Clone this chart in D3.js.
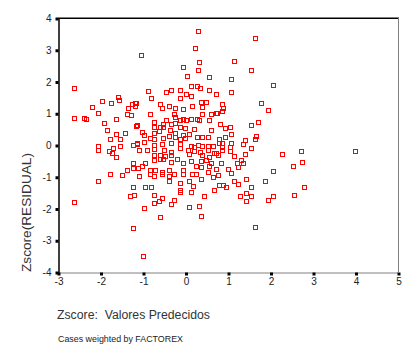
<!DOCTYPE html>
<html>
<head>
<meta charset="utf-8">
<script src="https://cdn.jsdelivr.net/npm/d3@7"></script>
<style>
  body { margin: 0; background: #fff; }
  text { font-family: "Liberation Sans", Arial, sans-serif; }
</style>
</head>
<body>
<div id="chart"></div>
<script>
// values
const predicted = [
  -2.62, -1.97, -1.76, -1.58, -1.57, -2.19, -2.05, -1.36, -1.27, -1.17,
  -1.38, -1.28, -2.62, -2.40, -2.33, -1.91, -1.64, -1.17, -1.85, -1.64,
  -1.43, -1.78, -1.53, -2.05, -2.05, -1.79, -1.70, -1.72, -1.64, -1.53,
  -1.24, -1.13, -1.23, -1.23, -1.38, -1.78, -1.50, -2.05, -1.23, -1.30,
  -1.22, -2.62, -1.24,
  0.29, 0.23, -1.05, 0.31, -0.05, 0.29, 0.03, 0.55, 0.12, 0.28,
  0.33, -0.88, -0.45, -0.34, -0.14, 0.55, -0.82, -0.13, 0, 0.12,
  -1.18, -1.18, -0.61, -0.56, -0.39, -0.25, -0.05, 0.15, 0.37, 0.49,
  0.39, 0.71, 0.61, -0.83, -0.26, -0.25, 0.38, -0.45, -0.05, 0.12,
  0.26, 0.32, 0.55, -0.74, -0.53, -0.35, -0.24, -0.13, 0, -1.14,
  -0.74, -0.60, -0.52, -0.12, -0.01, 0.20, 0.59, -1.02, -0.75, -0.62,
  -0.37, -0.25, -0.05, 0.08, 0.28, 0.39, 0.52, -0.97, -0.83, -0.73,
  -0.52, -0.39, -0.24, -0.13, -0.02, -1.13, -0.97, -0.74, -0.56, -0.35,
  -0.13, 0.12, 0.20, 0.29, 0.39, 0.53, 0.64, -1.10, -0.90, -0.75,
  -0.51, -0.33, -0.12, 0.06, 0.20, 0.35, 0.53, -0.74, -0.60, -0.49,
  -0.33, 0.08, 0.38, 0.56, 0.68, -0.74, -0.60, -0.52, -0.35, -0.20,
  -0.05, 0.13, 0.37, 0.49, -0.96, -1.02, -1.11, -0.83, -0.72, -0.55,
  -0.39, -0.05, 0.25, 0.37, 0.55, 0.61, -1.10, -0.84, -0.74, -0.55,
  -0.39, -0.28, -0.05, 0.16, 0.25, 0.37, 0.53, 0.64, -0.39, -0.14,
  0.09, 0.17, -0.96, -0.82, -0.14, -0.14, 0.13, 0.66, -0.73, 0.44,
  -0.55, -0.63, -0.26, -0.73, -0.33, 0.31, 0.09, -0.97, 0.36, -0.61,
  -1.00,
  1.64, 1.14, 1.54, 1.06, 2.05, 1.06, 0.72, 1.77, 1.94, 0.85,
  0.89, 0.85, 0.73, 0.80, 0.92, 1.04, 1.54, 1.71, 1.06, 0.94,
  0.78, 1.65, 1.63, 1.40, 0.78, 0.86, 1.08, 1.36, 0.86, 1.05,
  1.54, 0.86, 1.04, 0.72, 0.77, 1.13, 1.41, 2.28, 2.71, 2.73,
  0.84, 1.22, 1.23, 1.31, 1.36, 2.53, 2.05, 0.72, 1.00, 1.06,
  0.77, 1.42, 1.86, 1.13, 1.23, 0.78, 0.89, 0.96, 1.54, 0.68,
  2.78, 1.42, 1.29, 1.54, 2.05, 2.56, 1.42, 1.94, 1.64, 3.99
];
const residual = [
  1.80, 1.39, 1.31, 1.50, 1.42, 1.19, 1.02, 1.16, 1.28, 1.31,
  0.97, 0.94, 0.86, 0.86, 0.81, 0.68, 0.81, 0.60, 0.47, 0.34,
  0.37, 0.18, 0.20, -0.03, -0.16, -0.18, -0.10, -0.26, -0.38, -0.03,
  -0.01, 0.05, -0.58, -0.71, -0.80, -0.91, -0.95, -1.14, -1.33, -1.60,
  -1.57, -1.80, -2.62,
  3.59, 3.05, 2.84, 2.60, 2.45, 2.36, 2.18, 2.13, 1.85, 1.85,
  1.80, 1.70, 1.66, 1.72, 1.73, 1.72, 1.49, 1.47, 1.61, 1.53,
  1.33, 1.23, 1.28, 1.16, 1.22, 1.17, 1.13, 1.22, 1.36, 1.36,
  1.21, 1.00, 0.97, 0.97, 0.97, 0.89, 0.97, 0.79, 0.82, 0.83,
  0.81, 0.79, 0.79, 0.72, 0.66, 0.66, 0.70, 0.78, 0.79, 0.62,
  0.58, 0.58, 0.58, 0.56, 0.53, 0.51, 0.47, 0.41, 0.39, 0.43,
  0.47, 0.39, 0.31, 0.35, 0.26, 0.26, 0.24, 0.31, 0.21, 0.18,
  0.21, 0.28, 0.26, 0.18, 0.21, 0.03, 0.09, 0, 0.03, 0.07,
  0.03, -0.03, -0.07, 0, -0.03, -0.03, -0.03, -0.16, -0.16, -0.14,
  -0.16, -0.23, -0.10, -0.16, -0.18, -0.21, -0.16, -0.31, -0.31, -0.35,
  -0.31, -0.29, -0.31, -0.37, -0.26, -0.47, -0.45, -0.45, -0.53, -0.45,
  -0.58, -0.51, -0.50, -0.47, -0.56, -0.66, -0.73, -0.79, -0.79, -0.84,
  -0.79, -0.79, -0.66, -0.68, -0.66, -0.58, -0.97, -0.91, -0.98, -0.91,
  -0.98, -0.91, -0.92, -0.91, -0.91, -1.08, -0.84, -1.02, -1.14, -1.21,
  -1.14, -1.29, -1.31, -1.31, -1.42, -1.49, -1.49, -1.42, -1.57, -1.61,
  -1.68, -1.75, -1.73, -1.84, -1.86, -1.92, -1.96, -1.99, -2.24, -2.28,
  -3.49,
  3.36, 2.64, 2.35, 2.07, 1.88, 1.66, 1.61, 1.33, 1.09, 1.28,
  1.16, 1.07, 1.02, 0.66, 0.53, 0.56, 0.63, 0.72, 0.34, 0.26,
  0.20, 0.28, 0.20, 0.15, 0.07, 0.07, 0.05, 0.02, -0.05, -0.07,
  -0.09, -0.16, -0.19, -0.26, -0.32, -0.35, -0.29, -0.29, -0.19, -0.53,
  -0.56, -0.58, -0.68, -0.47, -0.56, -0.66, -0.81, -0.77, -0.77, -0.89,
  -0.94, -1.08, -1.12, -1.14, -1.23, -1.25, -1.25, -1.31, -1.33, -1.43,
  -1.33, -1.52, -1.60, -1.60, -1.60, -1.58, -1.77, -1.74, -2.59, -0.20
];
const xTicks = [-3, -2, -1, 0, 1, 2, 3, 4, 5];
const yTicks = [-4, -3, -2, -1, 0, 1, 2, 3, 4];

const points = predicted.map((d, i) => [d, residual[i]]);

const width = 414, height = 354;
const svg = d3.select('#chart')
  .append('svg')
  .attr('width', width)
  .attr('height', height)
  .style('background-color', '#fff');

const x = d3.scaleLinear().domain([-3, 5]).range([58, 398]);
const y = d3.scaleLinear().domain([-4, 4]).range([272, 18]);

// plain hyphen for negatives, like the original
const fmt = d => String(d);

// x axis (grey base line, black square ticks)
const gx = svg.append('g')
  .attr('transform', `translate(0.5,${y(-4) + 0.5})`)
  .call(d3.axisBottom(x).tickValues(xTicks).tickSizeInner(3).tickSizeOuter(0).tickPadding(2).tickFormat(fmt));
gx.select('.domain').attr('stroke', '#808080');
gx.selectAll('.tick line').attr('stroke', '#000').attr('stroke-width', 3);
gx.selectAll('.tick text').attr('font-size', 10).attr('fill', '#222')
  .attr('font-family', '"Liberation Sans", Arial, sans-serif');

// y axis
const gy = svg.append('g')
  .attr('transform', `translate(${x(-3) + 0.5},0.5)`)
  .call(d3.axisLeft(y).tickValues(yTicks).tickSizeInner(3).tickSizeOuter(0).tickPadding(4).tickFormat(fmt));
gy.select('.domain').attr('stroke', '#000').attr('stroke-width', 1.5);
gy.selectAll('.tick line').attr('stroke', '#000').attr('stroke-width', 3);
gy.selectAll('.tick text').attr('font-size', 10).attr('fill', '#222')
  .attr('font-family', '"Liberation Sans", Arial, sans-serif');

// top and right frame
svg.append('line')
  .attr('x1', x(-3) - 2).attr('x2', x(5) + 1)
  .attr('y1', y(4) - 0.5).attr('y2', y(4) - 0.5)
  .attr('stroke', '#808080');
svg.append('line')
  .attr('x1', x(-3)).attr('x2', x(5))
  .attr('y1', y(4) + 0.5).attr('y2', y(4) + 0.5)
  .attr('stroke', '#000');
svg.append('line')
  .attr('x1', x(5) + 0.5).attr('x2', x(5) + 0.5)
  .attr('y1', y(4) - 1).attr('y2', y(-4) + 1)
  .attr('stroke', '#808080');

// markers
svg.append('g')
  .selectAll('rect')
  .data(points)
  .enter()
  .append('rect')
  .attr('x', d => Math.round(x(d[0])) - 2 + 0.5)
  .attr('y', d => Math.round(y(d[1])) - 2 + 0.5)
  .attr('width', 4)
  .attr('height', 4)
  .attr('fill', 'none')
  .attr('stroke', '#ff0000')
  .attr('stroke-width', 1);

// titles
svg.append('text')
  .attr('transform', 'translate(31,272) rotate(-90)')
  .attr('font-size', 12)
  .attr('fill', '#333')
  .attr('textLength', 119)
  .attr('lengthAdjust', 'spacingAndGlyphs')
  .text('Zscore(RESIDUAL)');

svg.append('text')
  .attr('x', 57).attr('y', 319)
  .attr('font-size', 12)
  .attr('fill', '#333')
  .attr('textLength', 153)
  .attr('lengthAdjust', 'spacingAndGlyphs')
  .attr('xml:space', 'preserve')
  .style('white-space', 'pre')
  .text('Zscore:  Valores Predecidos');

svg.append('text')
  .attr('x', 58).attr('y', 342)
  .attr('font-size', 9)
  .attr('fill', '#222')
  .attr('textLength', 125)
  .attr('lengthAdjust', 'spacingAndGlyphs')
  .text('Cases weighted by FACTOREX');
</script>
</body>
</html>
